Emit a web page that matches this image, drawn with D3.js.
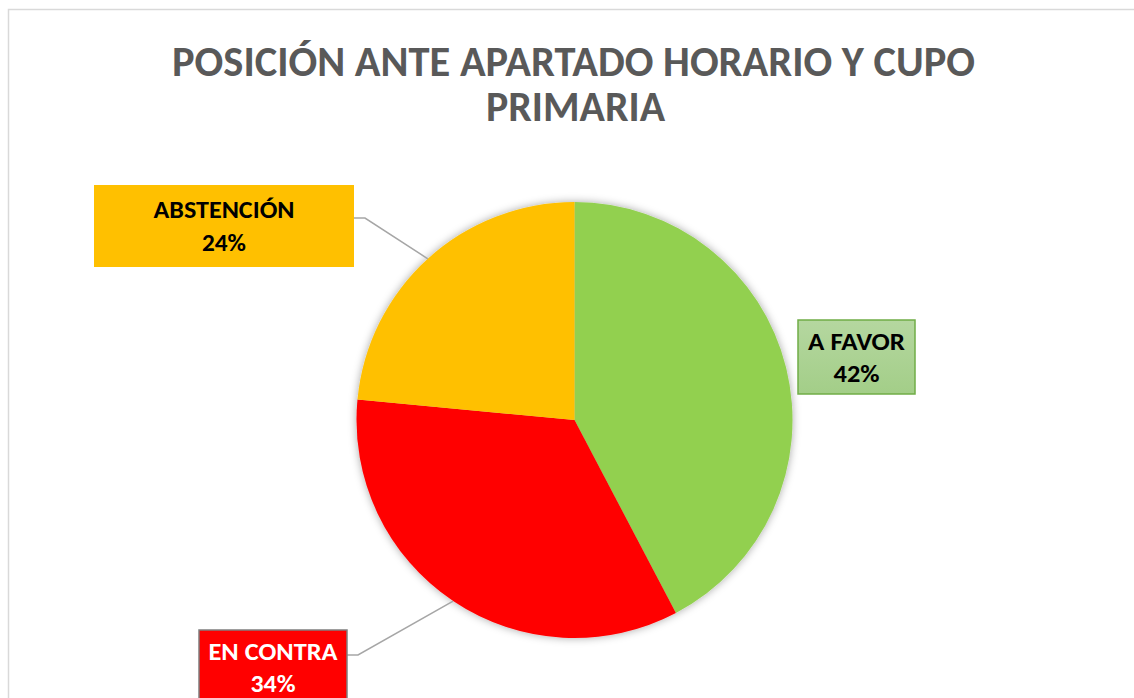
<!DOCTYPE html>
<html>
<head>
<meta charset="utf-8">
<script src="https://cdn.jsdelivr.net/npm/d3@7"></script>
<style>
  html, body { margin: 0; padding: 0; background: #fff; }
  svg { display: block; }
</style>
</head>
<body>
<svg id="chart" width="1134" height="698"></svg>
<script>
// ---- data ----
const titleLines = ["POSICIÓN ANTE APARTADO HORARIO Y CUPO", "PRIMARIA"];
const categories = ["A FAVOR", "EN CONTRA", "ABSTENCIÓN"];
const values = [42.3, 34.2, 23.5];

// ---- styles ----
const sliceColors = ["#92D050", "#FF0000", "#FFC000"];
const boxFill = ["#A9D18E", "#FF0000", "#FFC000"];
const boxStroke = ["#70AD47", "#7F7F7F", "none"];
const textColor = ["#000000", "#FFFFFF", "#000000"];
// label box layout
const boxLayout = [
  {x: 798, y: 320, w: 117, h: 74, w1: 97, w2: 46, off: 30, sp: 32, leader: null},
  {x: 199, y: 630, w: 148, h: 80, w1: 129, w2: 45, off: 30, sp: 32, leader: {y: 655, elbow: 358}},
  {x: 94, y: 185, w: 260, h: 82, w1: 141, w2: 44, off: 33, sp: 33, leader: {y: 218, elbow: 365}}
];
const fontFam = "Carlito, Calibri, Lato, 'Open Sans', sans-serif";

const svg = d3.select("#chart");

// chart border
svg.append("rect").attr("x", 8.5).attr("y", 9.5).attr("width", 1200).attr("height", 800)
  .attr("fill", "#fff").attr("stroke", "#D9D9D9").attr("stroke-width", 1.5);

// title
const titleY = [76, 121];
const titleW = [803, 179];
const titleX = [573.5, 575.5];
titleLines.forEach((t, i) => {
  svg.append("text").attr("x", titleX[i]).attr("y", titleY[i])
    .attr("text-anchor", "middle").attr("font-family", fontFam).attr("font-weight", "bold")
    .attr("font-size", 43).attr("fill", "#595959")
    .attr("textLength", titleW[i]).attr("lengthAdjust", "spacingAndGlyphs")
    .text(t);
});

// shadow filter
const defs = svg.append("defs");
const f = defs.append("filter").attr("id", "shadow").attr("x", "-20%").attr("y", "-20%").attr("width", "140%").attr("height", "140%");
f.append("feDropShadow").attr("dx", 0).attr("dy", 0).attr("stdDeviation", 4)
  .attr("flood-color", "#000").attr("flood-opacity", 0.35);

const grad = defs.append("linearGradient").attr("id", "greenGrad").attr("x1", 0).attr("y1", 0).attr("x2", 0).attr("y2", 1);
grad.append("stop").attr("offset", "0%").attr("stop-color", "#B5D7A0");
grad.append("stop").attr("offset", "100%").attr("stop-color", "#A3CE88");

// pie
const cx = 574.5, cy = 420, r = 218;
const pie = d3.pie().sort(null).value(d => d)(values);
const arc = d3.arc().innerRadius(0).outerRadius(r);
const g = svg.append("g").attr("transform", `translate(${cx},${cy})`);
g.append("g").attr("filter", "url(#shadow)")
  .selectAll("path").data(pie).join("path")
  .attr("d", arc).attr("fill", (d, i) => sliceColors[i]);

// leaders
const total = d3.sum(values);
pie.forEach((d, i) => {
  const L = boxLayout[i].leader;
  if (!L) return;
  const a = (d.startAngle + d.endAngle) / 2;
  const ex = cx + r * Math.sin(a), ey = cy - r * Math.cos(a);
  const bx = boxLayout[i].x + boxLayout[i].w;
  svg.append("polyline")
    .attr("points", `${bx},${L.y} ${L.elbow},${L.y} ${ex},${ey}`)
    .attr("fill", "none").attr("stroke", "#A6A6A6").attr("stroke-width", 1.5);
});

// label boxes
pie.forEach((d, i) => {
  const b = boxLayout[i];
  svg.append("rect").attr("x", b.x).attr("y", b.y).attr("width", b.w).attr("height", b.h)
    .attr("fill", i === 0 ? "url(#greenGrad)" : boxFill[i])
    .attr("stroke", boxStroke[i]).attr("stroke-width", boxStroke[i] === "none" ? 0 : 1.5);
  const mx = b.x + b.w / 2;
  const pct = Math.round(d.value / total * 100) + "%";
  const lines = [categories[i], pct];
  const widths = [b.w1, b.w2];
  lines.forEach((t, j) => {
    svg.append("text").attr("x", mx).attr("y", b.y + b.off + j * b.sp)
      .attr("text-anchor", "middle").attr("font-family", fontFam).attr("font-weight", "bold")
      .attr("font-size", 23.5).attr("fill", textColor[i])
      .attr("textLength", widths[j]).attr("lengthAdjust", "spacingAndGlyphs")
      .text(t);
  });
});
</script>
</body>
</html>
